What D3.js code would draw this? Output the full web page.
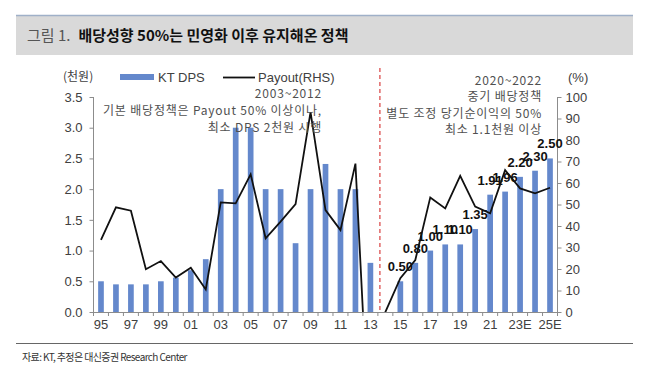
<!DOCTYPE html>
<html><head><meta charset="utf-8">
<script src="https://cdn.jsdelivr.net/npm/d3@7"></script>
<style>
html,body{margin:0;padding:0;background:#fff;}
svg{display:block;}
</style></head>
<body>
<svg id="chart" width="647" height="376"></svg>
<script>
const categories = ["95","96","97","98","99","00","01","02","03","04","05","06","07","08","09","10","11","12","13","14","15","16","17","18","19","20","21","22","23E","24E","25E"];
const dps = [0.5,0.45,0.45,0.45,0.5,0.56,0.68,0.86,2.0,3.0,3.0,2.0,2.0,1.12,2.0,2.41,2.0,2.0,0.8,0,0.5,0.8,1.0,1.1,1.1,1.35,1.91,1.96,2.2,2.3,2.5];
const payout = [33.5,48.7,47.1,19.9,23.7,16,20.6,10.5,51,50.5,64,34.3,42,50.2,93,47.4,38.1,69,-69,0,15.7,24.2,53.3,48.2,63.3,49,45.9,66,57.5,55.2,57.8];
const labeledFrom = "15";
const xTickLabels = ["95","97","99","01","03","05","07","09","11","13","15","17","19","21","23E","25E"];
const leftTicks = [0,0.5,1.0,1.5,2.0,2.5,3.0,3.5];
const rightTicks = [0,10,20,30,40,50,60,70,80,90,100];
const titlePrefix = "그림 1.";
const titleMain = "배당성향 50%는 민영화 이후 유지해온 정책";
const note1 = ["2003~2012","기본 배당정책은 Payout 50% 이상이나,","최소 DPS 2천원 시행"];
const note2 = ["2020~2022","중기 배당정책","별도 조정 당기순이익의 50%","최소 1.1천원 이상"];
const source = "자료: KT, 추정은 대신증권 Research Center";

const svg = d3.select("#chart");
const KR = "'Noto Sans CJK KR','Noto Sans',sans-serif";
const AR = "'Liberation Sans',Arial,sans-serif";
const barColor = "#6488cc";

// title band
svg.append("rect").attr("x",16).attr("y",15).attr("width",617).attr("height",40).attr("fill","#d9d9d9");
svg.append("line").attr("x1",16).attr("x2",633).attr("y1",15.5).attr("y2",15.5).attr("stroke","#9fb0c8").attr("stroke-width",1.5);
const tt = svg.append("text").attr("x",27).attr("y",41).attr("font-family",KR).attr("font-size",15);
tt.append("tspan").attr("fill","#555").text(titlePrefix);
tt.append("tspan").attr("dx",8).attr("font-weight","bold").attr("fill","#111").text(titleMain);

const pL=93.5, pR=557.5, pT=97, pB=312;
const x = d3.scaleBand().domain(categories).range([pL,pR]).padding(0);
const bw = x.bandwidth();
const barW = bw*0.38;
const y = d3.scaleLinear().domain([0,3.5]).range([pB,pT]);
const y2 = d3.scaleLinear().domain([0,100]).range([pB,pT]);

// bars
svg.append("g").selectAll("rect").data(categories).join("rect")
  .attr("x",(c)=>x(c)+(bw-barW)/2)
  .attr("y",(c,i)=>y(dps[i]))
  .attr("width",barW)
  .attr("height",(c,i)=>pB-y(dps[i]))
  .attr("fill",barColor);

// axes
const axisColor="#8c8c8c";
const gl = svg.append("g").attr("transform",`translate(${pL},0)`)
  .call(d3.axisLeft(y).tickValues(leftTicks).tickFormat(d3.format(".1f")).tickSize(4).tickPadding(7));
const gr = svg.append("g").attr("transform",`translate(${pR},0)`)
  .call(d3.axisRight(y2).tickValues(rightTicks).tickSize(4).tickPadding(4));
const gx = svg.append("g").attr("transform",`translate(0,${pB})`)
  .call(d3.axisBottom(x).tickValues(xTickLabels).tickSize(0).tickPadding(8));
// boundary ticks for x
svg.append("g").selectAll("line").data(categories.concat(["end"])).join("line")
  .attr("x1",(c,i)=>pL+i*bw).attr("x2",(c,i)=>pL+i*bw)
  .attr("y1",pB).attr("y2",pB+4).attr("stroke",axisColor);
[gl,gr,gx].forEach(g=>{
  g.select(".domain").attr("stroke",axisColor);
  g.selectAll(".tick line").attr("stroke",axisColor);
  g.selectAll("text").attr("font-family",AR).attr("font-size",13).attr("fill","#404040");
});
gl.select(".domain").attr("d",`M0,${pT}V${pB}`);
gr.select(".domain").attr("d",`M0,${pT}V${pB}`);

// dashed divider
const divX = x("14")+2;
svg.append("line").attr("x1",divX).attr("x2",divX).attr("y1",68).attr("y2",pB)
  .attr("stroke","#e06666").attr("stroke-width",1.5).attr("stroke-dasharray","4,3");

// payout line (clipped to plot)
svg.append("clipPath").attr("id","clip").append("rect")
  .attr("x",pL).attr("y",pT-5).attr("width",pR-pL).attr("height",pB-pT+5);
const line = d3.line().x((d,i)=>x(categories[i])+bw/2).y(d=>y2(d));
svg.append("path").datum(payout).attr("d",line).attr("clip-path","url(#clip)")
  .attr("fill","none").attr("stroke","#111").attr("stroke-width",1.8).attr("stroke-linejoin","miter");

// bar labels
const startIdx = categories.indexOf(labeledFrom);
svg.append("g").selectAll("text").data(categories.slice(startIdx)).join("text")
  .attr("x",c=>x(c)+bw/2)
  .attr("y",(c,i)=>y(dps[startIdx+i])-10)
  .attr("text-anchor","middle").attr("font-family",AR).attr("font-size",13).attr("font-weight","bold").attr("fill","#111")
  .text((c,i)=>dps[startIdx+i].toFixed(2));

// legend
svg.append("text").attr("x",63).attr("y",81).attr("font-family",KR).attr("font-size",12).attr("fill","#404040").text("(천원)");
svg.append("rect").attr("x",120).attr("y",74).attr("width",34).attr("height",6).attr("fill",barColor);
svg.append("text").attr("x",158).attr("y",82).attr("font-family",AR).attr("font-size",13).attr("fill","#404040").text("KT DPS");
svg.append("line").attr("x1",223).attr("x2",255).attr("y1",77.5).attr("y2",77.5).attr("stroke","#111").attr("stroke-width",1.8);
svg.append("text").attr("x",258).attr("y",82).attr("font-family",AR).attr("font-size",13).attr("fill","#404040").text("Payout(RHS)");
svg.append("text").attr("x",568).attr("y",82).attr("font-family",AR).attr("font-size",13).attr("fill","#404040").text("(%)");

// annotations
note1.forEach((t,i)=>{
  svg.append("text").attr("x",322).attr("y",98+i*17).attr("text-anchor","end")
    .attr("font-family",KR).attr("font-size",12).attr("letter-spacing",0.8).attr("fill","#505050").text(t);
});
note2.forEach((t,i)=>{
  svg.append("text").attr("x",542).attr("y",85+i*16.3).attr("text-anchor","end")
    .attr("font-family",KR).attr("font-size",12).attr("letter-spacing",0.8).attr("fill","#505050").text(t);
});

// footer
svg.append("line").attr("x1",16).attr("x2",633).attr("y1",343.5).attr("y2",343.5).attr("stroke","#666").attr("stroke-width",1);
svg.append("text").attr("x",22).attr("y",361).attr("font-family",KR).attr("font-size",10).attr("letter-spacing",-0.6).attr("fill","#333").text(source);
</script>
</body></html>
